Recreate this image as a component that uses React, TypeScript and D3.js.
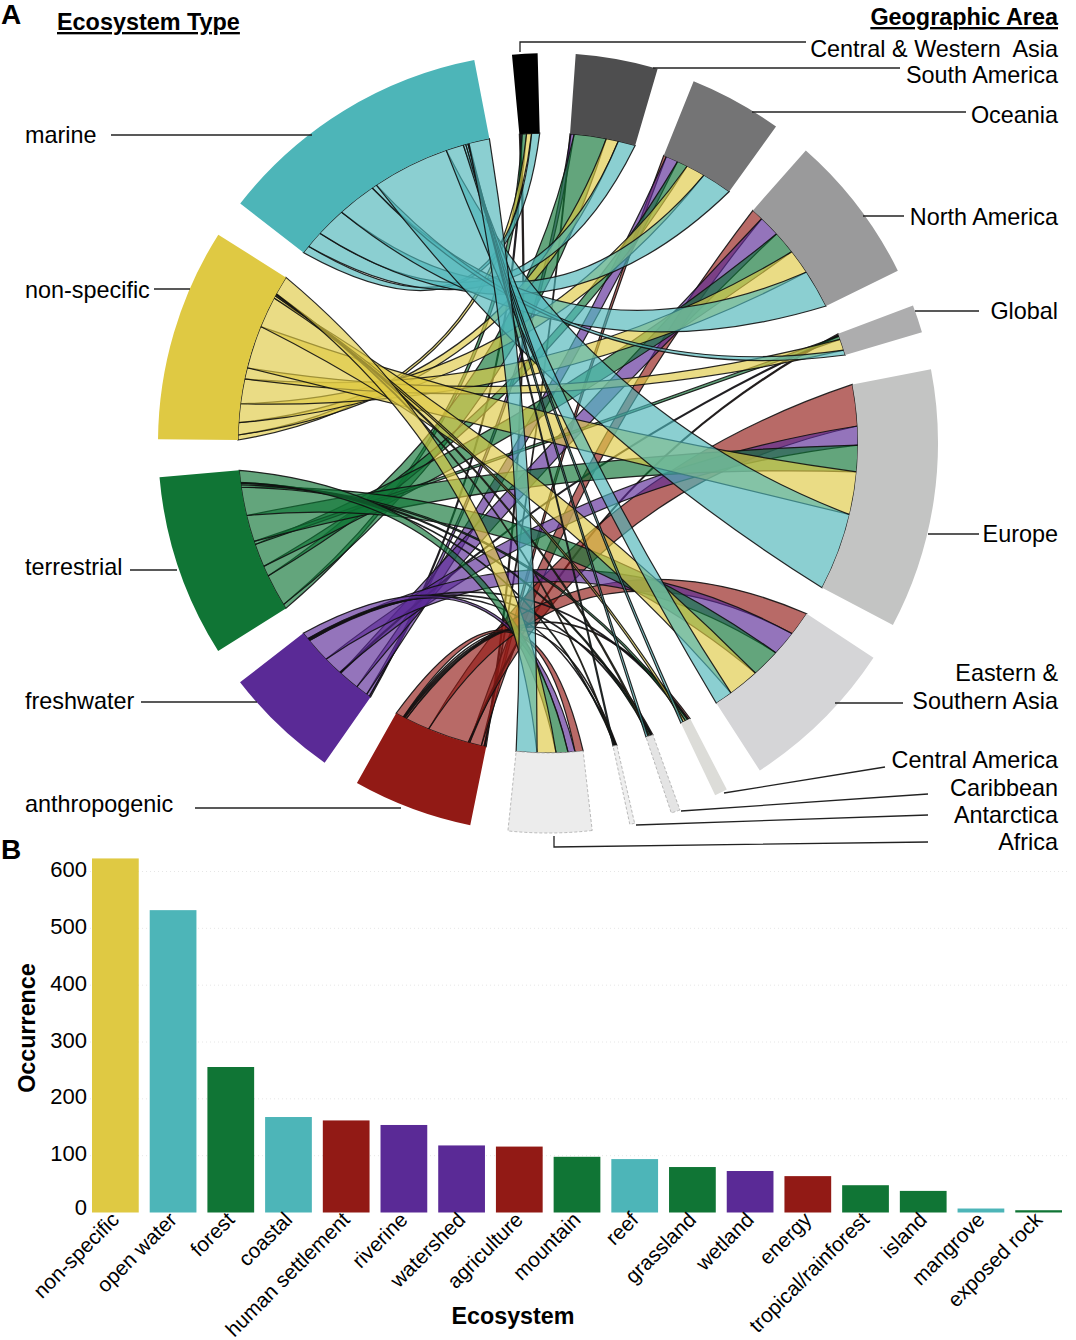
import { useEffect, useRef } from 'react';
import * as d3 from 'd3';

const FONT = '"Liberation Sans", Arial, sans-serif';

// chord diagram: clockwise order of the sectors starts at Central & Western Asia
const regions = ['Central & Western Asia', 'South America', 'Oceania', 'North America', 'Global', 'Europe',
  'Eastern & Southern Asia', 'Central America', 'Caribbean', 'Antarctica', 'Africa'];
const regionColors = ['#000000', '#4e4e4f', '#747475', '#9a9a9b', '#adadae', '#c3c4c3', '#d5d5d7', '#dcdcd8', '#e4e4e4', '#eeeeee', '#ececec'];

const ecoTypes = ['anthropogenic', 'freshwater', 'terrestrial', 'non-specific', 'marine'];
const ecoColors = ['#921a15', '#5a2a96', '#107535', '#dfc943', '#4db5b8'];

// occurrences per region, same order as regions
const anthropogenic = [5, 3, 10, 43, 5, 150, 88, 6, 4, 2, 29];
const freshwater = [5, 12, 44, 76, 4, 68, 90, 4, 3, 2, 25];
const terrestrial = [16, 116, 38, 84, 12, 96, 103, 9, 6, 3, 43];
const nonSpecific = [18, 44, 68, 90, 41, 155, 113, 9, 5, 3, 68];
const marine = [29, 62, 108, 140, 18, 280, 64, 9, 8, 4, 75];
const flows = [anthropogenic, freshwater, terrestrial, nonSpecific, marine];

// bar chart
const ecosystems = ['non-specific', 'open water', 'forest', 'coastal', 'human settlement', 'riverine', 'watershed',
  'agriculture', 'mountain', 'reef', 'grassland', 'wetland', 'energy', 'tropical/rainforest', 'island', 'mangrove', 'exposed rock'];
const occurrence = [623, 532, 256, 168, 162, 154, 118, 116, 98, 94, 80, 73, 64, 48, 38, 7, 4];
const barTypes = ['non-specific', 'marine', 'terrestrial', 'marine', 'anthropogenic', 'freshwater', 'freshwater',
  'anthropogenic', 'terrestrial', 'marine', 'terrestrial', 'freshwater', 'anthropogenic', 'terrestrial', 'terrestrial', 'marine', 'terrestrial'];
const yTicks = [0, 100, 200, 300, 400, 500, 600];

const rad = (deg) => (deg * Math.PI) / 180;

const App = () => {
  const svgRef = useRef(null);

  useEffect(() => {
    const svg = d3.select(svgRef.current);
    svg.selectAll('*').remove();
    svg.attr('font-family', FONT).attr('fill', '#000');

    const cx = 548, cy = 443;
    const rInner = 310, rOuter = 390;
    const pad = rad(5.6);
    const startAt = rad(-5.3);
    const ctrl = 0.3;

    const regionTotals = regions.map((_, j) => d3.sum(flows, (row) => row[j]));
    const ecoTotals = flows.map((row) => d3.sum(row));
    const grand = d3.sum(regionTotals) + d3.sum(ecoTotals);
    const sectorCount = regions.length + ecoTypes.length;
    const span = d3.scaleLinear().domain([0, grand]).range([0, 2 * Math.PI - pad * sectorCount]);

    // sector layout, regions first then the ecosystem types
    const sectors = [];
    let a = startAt;
    regions.forEach((name, j) => {
      sectors.push({ name, color: regionColors[j], startAngle: a, endAngle: a + span(regionTotals[j]) });
      a += span(regionTotals[j]) + pad;
    });
    ecoTypes.forEach((name, i) => {
      sectors.push({ name, color: ecoColors[i], startAngle: a, endAngle: a + span(ecoTotals[i]) });
      a += span(ecoTotals[i]) + pad;
    });

    // link ends: regions take the types in order, types take the regions in order
    const regionStart = regions.map((_, j) => {
      const out = [];
      let pos = sectors[j].startAngle;
      flows.forEach((row) => { out.push(pos); pos += span(row[j]); });
      return out;
    });
    const ecoStart = flows.map((row, i) => {
      const out = [];
      let pos = sectors[regions.length + i].startAngle;
      row.forEach((v) => { out.push(pos); pos += span(v); });
      return out;
    });

    const pt = (ang) => [rInner * Math.sin(ang), -rInner * Math.cos(ang)];
    const curveTo = (p, from, to) => {
      const a0 = pt(from), a1 = pt(to);
      p.quadraticCurveTo(((a0[0] + a1[0]) / 2) * ctrl, ((a0[1] + a1[1]) / 2) * ctrl, a1[0], a1[1]);
    };
    const linkPath = (s0, s1, t0, t1) => {
      const p = d3.path();
      const st = pt(s0);
      p.moveTo(st[0], st[1]);
      p.arc(0, 0, rInner, s0 - Math.PI / 2, s1 - Math.PI / 2);
      curveTo(p, s1, t0);
      p.arc(0, 0, rInner, t0 - Math.PI / 2, t1 - Math.PI / 2);
      curveTo(p, t1, s0);
      p.closePath();
      return p.toString();
    };

    const chord = svg.append('g').attr('transform', `translate(${cx},${cy})`);

    flows.forEach((row, i) => {
      row.forEach((v, j) => {
        const s0 = ecoStart[i][j];
        const t0 = regionStart[j][i];
        chord.append('path')
          .attr('d', linkPath(s0, s0 + span(v), t0, t0 + span(v)))
          .attr('fill', ecoColors[i])
          .attr('fill-opacity', 0.65)
          .attr('stroke', '#111')
          .attr('stroke-opacity', 0.9)
          .attr('stroke-width', 1.2);
      });
    });

    const arc = d3.arc().innerRadius(rInner).outerRadius(rOuter);
    chord.selectAll('path.sector')
      .data(sectors)
      .enter().append('path')
      .attr('class', 'sector')
      .attr('d', arc)
      .attr('fill', (d) => d.color)
      .attr('stroke', (d) => (['Caribbean', 'Antarctica', 'Africa'].includes(d.name) ? '#aaa' : 'none'))
      .attr('stroke-width', 0.8)
      .attr('stroke-dasharray', '3,2');

    // leader lines
    const leaders = [
      [[520, 52], [520, 42], [806, 42]],
      [[653, 68], [900, 68]],
      [[752, 112], [966, 112]],
      [[863, 216], [904, 216]],
      [[915, 311], [979, 311]],
      [[928, 534], [979, 534]],
      [[835, 703], [903, 703]],
      [[724, 793], [885, 767]],
      [[681, 811], [928, 794]],
      [[636, 825], [928, 815]],
      [[554, 836], [554, 847], [928, 842]],
      [[111, 135], [312, 135]],
      [[154, 289], [190, 289]],
      [[130, 570], [177, 570]],
      [[141, 702], [257, 702]],
      [[195, 808], [401, 808]],
    ];
    const leaderLine = d3.line();
    svg.selectAll('path.leader')
      .data(leaders)
      .enter().append('path')
      .attr('class', 'leader')
      .attr('d', (d) => leaderLine(d))
      .attr('fill', 'none')
      .attr('stroke', '#222')
      .attr('stroke-width', 1.3);

    const labels = [
      ['Central & Western  Asia', 1058, 57, 'end'],
      ['South America', 1058, 83, 'end'],
      ['Oceania', 1058, 123, 'end'],
      ['North America', 1058, 225, 'end'],
      ['Global', 1058, 319, 'end'],
      ['Europe', 1058, 542, 'end'],
      ['Eastern &', 1058, 681, 'end'],
      ['Southern Asia', 1058, 709, 'end'],
      ['Central America', 1058, 768, 'end'],
      ['Caribbean', 1058, 796, 'end'],
      ['Antarctica', 1058, 823, 'end'],
      ['Africa', 1058, 850, 'end'],
      ['marine', 25, 143, 'start'],
      ['non-specific', 25, 298, 'start'],
      ['terrestrial', 25, 575, 'start'],
      ['freshwater', 25, 709, 'start'],
      ['anthropogenic', 25, 812, 'start'],
    ];
    svg.selectAll('text.label')
      .data(labels)
      .enter().append('text')
      .attr('class', 'label')
      .attr('x', (d) => d[1])
      .attr('y', (d) => d[2])
      .attr('text-anchor', (d) => d[3])
      .attr('font-size', 23.4)
      .style('white-space', 'pre')
      .text((d) => d[0]);

    svg.append('text').attr('x', 57).attr('y', 30).attr('font-size', 23.4).attr('font-weight', 700)
      .attr('text-decoration', 'underline').text('Ecosystem Type');
    svg.append('text').attr('x', 1058).attr('y', 25).attr('font-size', 23.4).attr('font-weight', 700)
      .attr('text-anchor', 'end').attr('text-decoration', 'underline').text('Geographic Area');
    svg.append('text').attr('x', 1).attr('y', 24).attr('font-size', 28).attr('font-weight', 700).text('A');
    svg.append('text').attr('x', 1).attr('y', 859).attr('font-size', 28).attr('font-weight', 700).text('B');

    // bar chart
    const x = d3.scaleBand().domain(ecosystems).range([92, 1062]).paddingInner(0.19).paddingOuter(0);
    const y = d3.scaleLinear().domain([0, 600]).range([1212.5, 871.5]);
    const typeColor = d3.scaleOrdinal().domain(ecoTypes).range(ecoColors);

    svg.append('g').selectAll('line')
      .data(yTicks.slice(1))
      .enter().append('line')
      .attr('x1', 86)
      .attr('x2', 1068)
      .attr('y1', (d) => y(d))
      .attr('y2', (d) => y(d))
      .attr('stroke', '#e6e6e6')
      .attr('stroke-width', 1)
      .attr('stroke-dasharray', '1,3');

    svg.append('g').selectAll('rect')
      .data(ecosystems)
      .enter().append('rect')
      .attr('x', (d) => x(d))
      .attr('y', (_, i) => y(occurrence[i]))
      .attr('width', x.bandwidth())
      .attr('height', (_, i) => y(0) - y(occurrence[i]))
      .attr('fill', (_, i) => typeColor(barTypes[i]));

    svg.append('g').selectAll('text')
      .data(yTicks)
      .enter().append('text')
      .attr('x', 87)
      .attr('y', (d) => (d === 0 ? y(d) + 2 : y(d) + 5.5))
      .attr('text-anchor', 'end')
      .attr('font-size', 22)
      .text((d) => d);

    svg.append('g').selectAll('text')
      .data(ecosystems)
      .enter().append('text')
      .attr('transform', (d) => `translate(${x(d) + x.bandwidth() / 2 + 5},${1221}) rotate(-45)`)
      .attr('text-anchor', 'end')
      .attr('font-size', 20.8)
      .text((d) => d);

    svg.append('text')
      .attr('transform', 'translate(35,1028) rotate(-90)')
      .attr('text-anchor', 'middle')
      .attr('font-size', 23.3)
      .attr('font-weight', 700)
      .text('Occurrence');
    svg.append('text')
      .attr('x', 513)
      .attr('y', 1324)
      .attr('text-anchor', 'middle')
      .attr('font-size', 23.3)
      .attr('font-weight', 700)
      .text('Ecosystem');
  }, []);

  return (
    <svg ref={svgRef} width={1076} height={1340}
      style={{ position: 'absolute', left: 0, top: 0, display: 'block', background: '#fff' }}></svg>
  );
};

export default App;
